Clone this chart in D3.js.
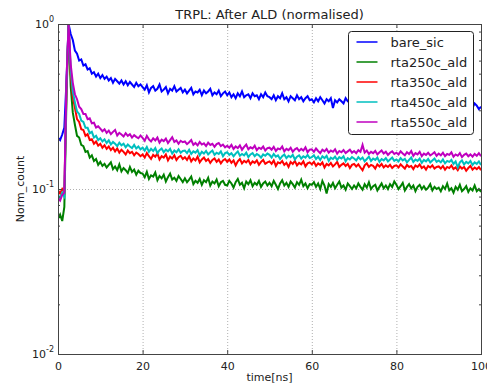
<!DOCTYPE html>
<html>
<head>
<meta charset="utf-8">
<script src="https://cdn.jsdelivr.net/npm/d3@7"></script>
<style>
  body { margin: 0; background: #fff; }
  text { font-family: 'DejaVu Sans', sans-serif; fill: #222; }
</style>
</head>
<body>
<div id="chart"></div>
<script>
// sampling grid of the TRPL trace (ns)
const timeStep = 0.5
const times = d3.range(0, 100 + timeStep / 2, timeStep)

const seriesNames = ['bare_sic', 'rta250c_ald', 'rta350c_ald', 'rta450c_ald', 'rta550c_ald']
const seriesColors = ['#0000ff', '#008000', '#ff0000', '#00bfbf', '#bf00bf']
const xTicks = [0, 20, 40, 60, 80, 100]
const yTicks = [0.01, 0.1, 1]

const bareSic = [
  0.205, 0.198, 0.214, 0.236, 0.45, 1.0,
  0.87, 0.80, 0.69, 0.66, 0.60, 0.61, 0.56, 0.57, 0.53, 0.54, 0.50, 0.51, 0.48, 0.50,
  0.47, 0.49, 0.465, 0.48, 0.455, 0.47, 0.44, 0.465, 0.45, 0.435, 0.455, 0.43, 0.45, 0.425, 0.445, 0.43, 0.415, 0.44, 0.42, 0.43,
  0.415, 0.40, 0.425, 0.385, 0.41, 0.42, 0.395, 0.405, 0.43, 0.39, 0.40, 0.415, 0.38, 0.405, 0.395, 0.42, 0.39, 0.40, 0.41, 0.385,
  0.40, 0.38, 0.395, 0.41, 0.375, 0.39, 0.385, 0.40, 0.37, 0.395, 0.38, 0.39, 0.405, 0.37, 0.385, 0.375, 0.395, 0.365, 0.38, 0.39,
  0.37, 0.385, 0.36, 0.375, 0.355, 0.38, 0.365, 0.39, 0.36, 0.37, 0.375, 0.355, 0.38, 0.365, 0.37, 0.35, 0.375, 0.36, 0.385, 0.365,
  0.36, 0.35, 0.37, 0.345, 0.365, 0.355, 0.38, 0.35, 0.36, 0.34, 0.365, 0.355, 0.345, 0.37, 0.35, 0.36, 0.34, 0.355, 0.365, 0.345,
  0.35, 0.335, 0.355, 0.34, 0.36, 0.345, 0.33, 0.35, 0.34, 0.355, 0.31, 0.345, 0.335, 0.35, 0.34, 0.33, 0.355, 0.34, 0.345, 0.33,
  0.34, 0.33, 0.345, 0.325, 0.34, 0.335, 0.35, 0.325, 0.34, 0.33, 0.345, 0.32, 0.335, 0.34, 0.325, 0.345, 0.33, 0.335, 0.32, 0.34,
  0.33, 0.34, 0.32, 0.335, 0.325, 0.34, 0.33, 0.315, 0.335, 0.325, 0.34, 0.32, 0.33, 0.335, 0.32, 0.33, 0.34, 0.315, 0.33, 0.325,
  0.33, 0.32, 0.335, 0.315, 0.325, 0.33, 0.32, 0.335, 0.31, 0.325, 0.33, 0.32, 0.315, 0.335, 0.32, 0.325, 0.31, 0.33, 0.32, 0.305, 0.315
]

const rta250c = [
  0.066, 0.07, 0.064, 0.078, 0.35, 1.0,
  0.42, 0.29, 0.245, 0.21, 0.205, 0.185, 0.182, 0.168, 0.17, 0.155, 0.16, 0.148, 0.152, 0.14,
  0.146, 0.138, 0.142, 0.135, 0.14, 0.145, 0.132, 0.137, 0.13, 0.141, 0.128, 0.134, 0.13, 0.125, 0.136, 0.127, 0.131, 0.122, 0.129, 0.125,
  0.124, 0.118, 0.127, 0.115, 0.121, 0.119, 0.126, 0.113, 0.12, 0.116, 0.122, 0.111, 0.118, 0.124, 0.114, 0.117, 0.112, 0.12, 0.115, 0.11,
  0.116, 0.11, 0.114, 0.119, 0.107, 0.112, 0.109, 0.115, 0.106, 0.113, 0.11, 0.117, 0.105, 0.111, 0.108, 0.114, 0.104, 0.11, 0.112, 0.106,
  0.105, 0.112, 0.108, 0.102, 0.11, 0.115, 0.106, 0.109, 0.101, 0.111, 0.107, 0.113, 0.104, 0.109, 0.106, 0.112, 0.103, 0.108, 0.111, 0.105,
  0.109, 0.104, 0.112, 0.106, 0.1, 0.108, 0.113, 0.105, 0.109, 0.103, 0.111, 0.107, 0.102, 0.11, 0.106, 0.114, 0.104, 0.108, 0.101, 0.107,
  0.106, 0.11, 0.103, 0.108, 0.1, 0.112, 0.105, 0.094, 0.107, 0.103, 0.109, 0.101, 0.106, 0.111, 0.102, 0.105, 0.099, 0.108, 0.104, 0.1,
  0.105, 0.101, 0.108, 0.103, 0.099, 0.107, 0.102, 0.11, 0.1, 0.104, 0.106, 0.098, 0.103, 0.108, 0.101, 0.105, 0.1, 0.107, 0.103, 0.111,
  0.106, 0.1, 0.104, 0.109, 0.098, 0.103, 0.107, 0.101, 0.105, 0.097, 0.103, 0.106, 0.1, 0.104, 0.099, 0.102, 0.107, 0.098, 0.103, 0.1,
  0.102, 0.097, 0.104, 0.1, 0.108, 0.098, 0.101, 0.095, 0.103, 0.099, 0.106, 0.097, 0.1, 0.104, 0.096, 0.101, 0.098, 0.105, 0.097, 0.1, 0.096
]

const rta350c = [
  0.098, 0.094, 0.1, 0.096, 0.4, 1.0,
  0.5, 0.36, 0.31, 0.265, 0.255, 0.23, 0.228, 0.21, 0.215, 0.198, 0.2, 0.188, 0.194, 0.183,
  0.188, 0.178, 0.184, 0.175, 0.181, 0.172, 0.178, 0.169, 0.176, 0.166, 0.173, 0.168, 0.162, 0.171, 0.165, 0.168, 0.16, 0.166, 0.163, 0.158,
  0.162, 0.155, 0.165, 0.158, 0.152, 0.161, 0.157, 0.164, 0.151, 0.158, 0.155, 0.162, 0.149, 0.157, 0.153, 0.16, 0.15, 0.156, 0.159, 0.152,
  0.156, 0.15, 0.158, 0.147, 0.153, 0.149, 0.157, 0.145, 0.151, 0.155, 0.148, 0.152, 0.144, 0.15, 0.153, 0.146, 0.151, 0.143, 0.149, 0.152,
  0.146, 0.151, 0.144, 0.149, 0.139, 0.147, 0.152, 0.143, 0.148, 0.145, 0.15, 0.141, 0.147, 0.144, 0.149, 0.14, 0.146, 0.15, 0.142, 0.145,
  0.147, 0.142, 0.149, 0.138, 0.145, 0.143, 0.148, 0.14, 0.144, 0.136, 0.146, 0.142, 0.148, 0.139, 0.144, 0.141, 0.147, 0.137, 0.143, 0.145,
  0.141, 0.146, 0.138, 0.143, 0.14, 0.145, 0.135, 0.142, 0.139, 0.144, 0.137, 0.141, 0.146, 0.136, 0.14, 0.143, 0.138, 0.142, 0.134, 0.14,
  0.142, 0.137, 0.141, 0.135, 0.13, 0.139, 0.143, 0.136, 0.14, 0.138, 0.133, 0.141, 0.137, 0.142, 0.135, 0.139, 0.136, 0.14, 0.134, 0.138,
  0.139, 0.135, 0.141, 0.137, 0.133, 0.14, 0.136, 0.138, 0.132, 0.139, 0.136, 0.141, 0.134, 0.137, 0.131, 0.138, 0.135, 0.139, 0.133, 0.136,
  0.137, 0.133, 0.138, 0.131, 0.136, 0.134, 0.139, 0.132, 0.135, 0.13, 0.137, 0.133, 0.136, 0.129, 0.134, 0.138, 0.131, 0.135, 0.132, 0.136, 0.13
]

const rta450c = [
  0.092, 0.088, 0.095, 0.09, 0.42, 1.0,
  0.53, 0.39, 0.335, 0.295, 0.285, 0.26, 0.255, 0.235, 0.235, 0.218, 0.222, 0.205, 0.21, 0.198,
  0.203, 0.194, 0.2, 0.19, 0.197, 0.186, 0.193, 0.188, 0.182, 0.191, 0.184, 0.188, 0.179, 0.186, 0.181, 0.177, 0.185, 0.176, 0.181, 0.174,
  0.178, 0.171, 0.18, 0.168, 0.175, 0.17, 0.177, 0.165, 0.172, 0.176, 0.167, 0.173, 0.169, 0.175, 0.164, 0.171, 0.167, 0.174, 0.166, 0.17,
  0.171, 0.165, 0.173, 0.163, 0.169, 0.166, 0.172, 0.16, 0.168, 0.164, 0.17, 0.162, 0.167, 0.171, 0.161, 0.166, 0.163, 0.169, 0.158, 0.165,
  0.167, 0.161, 0.165, 0.158, 0.164, 0.169, 0.159, 0.163, 0.16, 0.166, 0.156, 0.162, 0.165, 0.158, 0.163, 0.16, 0.155, 0.162, 0.159, 0.164,
  0.161, 0.155, 0.163, 0.157, 0.16, 0.152, 0.158, 0.162, 0.154, 0.159, 0.156, 0.161, 0.151, 0.157, 0.16, 0.153, 0.158, 0.155, 0.161, 0.154,
  0.156, 0.16, 0.152, 0.157, 0.15, 0.158, 0.154, 0.159, 0.148, 0.155, 0.152, 0.157, 0.15, 0.156, 0.153, 0.158, 0.147, 0.154, 0.151, 0.156,
  0.153, 0.149, 0.156, 0.151, 0.155, 0.147, 0.152, 0.157, 0.148, 0.153, 0.15, 0.155, 0.146, 0.152, 0.149, 0.154, 0.147, 0.151, 0.155, 0.148,
  0.151, 0.147, 0.154, 0.149, 0.152, 0.145, 0.15, 0.155, 0.146, 0.151, 0.148, 0.153, 0.144, 0.15, 0.147, 0.152, 0.145, 0.149, 0.153, 0.146,
  0.149, 0.145, 0.151, 0.143, 0.148, 0.146, 0.15, 0.142, 0.147, 0.135, 0.145, 0.149, 0.141, 0.146, 0.143, 0.148, 0.14, 0.145, 0.142, 0.147, 0.14
]

const rta550c = [
  0.088, 0.085, 0.092, 0.095, 0.45, 1.0,
  0.57, 0.44, 0.375, 0.35, 0.315, 0.305, 0.285, 0.285, 0.265, 0.268, 0.25, 0.252, 0.236, 0.24,
  0.232, 0.224, 0.23, 0.219, 0.226, 0.215, 0.222, 0.228, 0.211, 0.219, 0.214, 0.208, 0.218, 0.21, 0.215, 0.205, 0.212, 0.207, 0.203, 0.211,
  0.204, 0.196, 0.21, 0.2, 0.194, 0.203, 0.197, 0.205, 0.191, 0.199, 0.195, 0.202, 0.19, 0.198, 0.206, 0.193, 0.197, 0.188, 0.196, 0.192,
  0.194, 0.187, 0.192, 0.198, 0.185, 0.19, 0.184, 0.193, 0.186, 0.189, 0.182, 0.191, 0.185, 0.188, 0.18, 0.187, 0.19, 0.182, 0.186, 0.179,
  0.183, 0.178, 0.185, 0.175, 0.181, 0.177, 0.184, 0.173, 0.18, 0.186, 0.174, 0.179, 0.176, 0.183, 0.172, 0.178, 0.175, 0.181, 0.171, 0.177,
  0.178, 0.173, 0.18, 0.17, 0.176, 0.174, 0.181, 0.169, 0.175, 0.172, 0.178, 0.168, 0.174, 0.177, 0.17, 0.175, 0.171, 0.179, 0.167, 0.173,
  0.174, 0.168, 0.176, 0.17, 0.165, 0.173, 0.169, 0.175, 0.166, 0.171, 0.168, 0.174, 0.164, 0.17, 0.167, 0.172, 0.165, 0.169, 0.173, 0.166,
  0.17, 0.165, 0.172, 0.168, 0.185, 0.166, 0.171, 0.163, 0.168, 0.165, 0.17, 0.162, 0.167, 0.171, 0.164, 0.168, 0.161, 0.166, 0.169, 0.163,
  0.166, 0.162, 0.169, 0.164, 0.16, 0.167, 0.163, 0.17, 0.159, 0.165, 0.162, 0.168, 0.158, 0.164, 0.161, 0.166, 0.16, 0.163, 0.167, 0.159,
  0.164, 0.16, 0.166, 0.158, 0.163, 0.161, 0.167, 0.157, 0.162, 0.159, 0.165, 0.156, 0.161, 0.164, 0.158, 0.162, 0.157, 0.163, 0.159, 0.165, 0.158
]

const seriesValues = [bareSic, rta250c, rta350c, rta450c, rta550c]

const width = 487
const height = 387
const margin = { top: 24, right: 6, bottom: 33, left: 58 }
const innerW = width - margin.left - margin.right
const innerH = height - margin.top - margin.bottom

const svg = d3.select('#chart')
  .append('svg')
  .attr('width', width)
  .attr('height', height)

const x = d3.scaleLinear().domain([0, 100]).range([0, innerW])
const y = d3.scaleLog().domain([0.01, 1]).range([innerH, 0])

const g = svg.append('g')
  .attr('transform', 'translate(' + margin.left + ',' + margin.top + ')')

/* grid */
g.selectAll('.vgrid')
  .data(xTicks.slice(1, -1))
  .enter()
  .append('line')
  .attr('x1', d => x(d) + 0.5)
  .attr('x2', d => x(d) + 0.5)
  .attr('y1', 0)
  .attr('y2', innerH)
  .attr('stroke', '#b0b0b0')
  .attr('stroke-dasharray', '1,2')
g.selectAll('.hgrid')
  .data(yTicks.slice(1, -1))
  .enter()
  .append('line')
  .attr('x1', 0)
  .attr('x2', innerW)
  .attr('y1', d => y(d) + 0.5)
  .attr('y2', d => y(d) + 0.5)
  .attr('stroke', '#b0b0b0')
  .attr('stroke-dasharray', '1,2')

/* curves */
g.append('clipPath')
  .attr('id', 'plotclip')
  .append('rect')
  .attr('width', innerW)
  .attr('height', innerH)

const line = d3.line()
  .x((d, i) => x(times[i]))
  .y(d => y(d))

g.append('g')
  .attr('clip-path', 'url(#plotclip)')
  .selectAll('path')
  .data(seriesValues)
  .enter()
  .append('path')
  .attr('d', line)
  .attr('fill', 'none')
  .attr('stroke', (d, i) => seriesColors[i])
  .attr('stroke-width', 2)
  .attr('stroke-linejoin', 'miter')

/* axes - ticks inward on all four sides */
const minorTicks = []
;[0.01, 0.1].forEach(dec => {
  for (let k = 2; k <= 9; k++) minorTicks.push(dec * k)
})
const axisColor = '#444'

const xAxisBottom = g.append('g').attr('transform', 'translate(0,' + innerH + ')')
  .call(d3.axisBottom(x).tickValues(xTicks).tickSize(-4).tickPadding(8).tickFormat(d3.format('d')))
g.append('g')
  .call(d3.axisTop(x).tickValues(xTicks).tickSize(-4).tickFormat(''))
g.append('g')
  .call(d3.axisLeft(y).tickValues(yTicks).tickSize(-4).tickFormat(''))
g.append('g')
  .call(d3.axisLeft(y).tickValues(minorTicks).tickSize(-2).tickFormat(''))
g.append('g').attr('transform', 'translate(' + innerW + ',0)')
  .call(d3.axisRight(y).tickValues(yTicks).tickSize(-4).tickFormat(''))
g.append('g').attr('transform', 'translate(' + innerW + ',0)')
  .call(d3.axisRight(y).tickValues(minorTicks).tickSize(-2).tickFormat(''))

g.selectAll('.domain').remove()
g.selectAll('.tick line').attr('stroke', axisColor)
xAxisBottom.selectAll('text')
  .style('font-size', '11px')
  .style('font-family', 'DejaVu Sans, sans-serif')
  .attr('fill', '#222')

/* log labels with superscript exponent */
const yLab = g.append('g')
yTicks.forEach(v => {
  const t = yLab.append('text')
    .attr('x', -4)
    .attr('y', y(v) + 4)
    .attr('text-anchor', 'end')
    .style('font-size', '11px')
  t.append('tspan').text('10')
  t.append('tspan')
    .attr('dy', -6)
    .style('font-size', '8px')
    .text(Math.round(Math.log10(v)))
})

/* frame */
g.append('rect')
  .attr('x', 0.5)
  .attr('y', 0.5)
  .attr('width', innerW)
  .attr('height', innerH)
  .attr('fill', 'none')
  .attr('stroke', axisColor)
  .attr('stroke-width', 1)

/* labels */
svg.append('text')
  .attr('x', margin.left + innerW / 2)
  .attr('y', 19)
  .attr('text-anchor', 'middle')
  .style('font-size', '13px')
  .text('TRPL: After ALD (normalised)')

svg.append('text')
  .attr('x', margin.left + innerW / 2)
  .attr('y', 381)
  .attr('text-anchor', 'middle')
  .style('font-size', '11px')
  .text('time[ns]')

svg.append('text')
  .attr('transform', 'translate(24,' + (margin.top + innerH / 2) + ') rotate(-90)')
  .attr('text-anchor', 'middle')
  .style('font-size', '11px')
  .text('Norm_count')

/* legend */
const legend = svg.append('g').attr('transform', 'translate(348.5,31.5)')
legend.append('rect')
  .attr('width', 125)
  .attr('height', 103)
  .attr('rx', 3)
  .attr('fill', '#fff')
  .attr('stroke', '#222')
  .attr('stroke-width', 1)

const item = legend.selectAll('.item')
  .data(seriesNames)
  .enter()
  .append('g')
  .attr('class', 'item')
  .attr('transform', (d, i) => 'translate(0,' + (10.5 + i * 20) + ')')
item.append('line')
  .attr('x1', 8)
  .attr('x2', 29)
  .attr('stroke', (d, i) => seriesColors[i])
  .attr('stroke-width', 1.5)
item.append('text')
  .attr('x', 42)
  .attr('dy', '0.36em')
  .style('font-size', '13px')
  .text(d => d)
</script>
</body>
</html>
